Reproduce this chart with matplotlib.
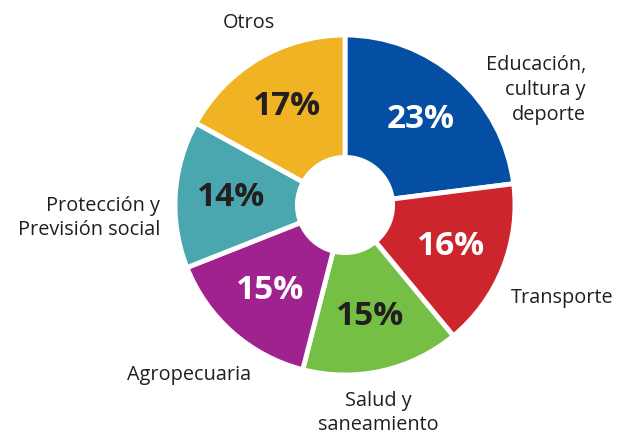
import matplotlib
matplotlib.use("Agg")
import matplotlib.pyplot as plt

categories = ["Educación,\ncultura y\ndeporte", "Transporte", "Salud y\nsaneamiento",
              "Agropecuaria", "Protección y\nPrevisión social", "Otros"]
values = [23, 16, 15, 15, 14, 17]
colors = ["#044EA3", "#CC252D", "#75BF44", "#A0228E", "#4BA7AF", "#EFB323"]
pct_colors = ["white", "white", "#231F20", "white", "#231F20", "#231F20"]

plt.rcParams['font.family'] = ['Open Sans', 'DejaVu Sans']

fig = plt.figure(figsize=(6.17, 4.34), dpi=100)
ax = fig.add_axes([0, 0, 1, 1])

cx, cy, R = 345, 229, 170
wedges, texts, autotexts = ax.pie(
    values, colors=colors, startangle=90, counterclock=False,
    center=(cx, cy), radius=R, autopct=lambda p: f"{p:.0f}%",
    pctdistance=0.67, wedgeprops=dict(width=R * 0.72, edgecolor='white', linewidth=3.5),
    textprops=dict(fontsize=24, fontweight='bold'), frame=True)
for t, c in zip(autotexts, pct_colors):
    t.set_color(c)
ax.set_xlim(0, 617)
ax.set_ylim(0, 434)
ax.set_aspect('equal')
ax.axis('off')

label_pos = [(586, 344, 'right'), (511, 136, 'left'), (378, 21, 'center'),
             (127, 59, 'left'), (160, 216, 'right'), (249, 411, 'center')]
for lab, (x, y, ha) in zip(categories, label_pos):
    ax.text(x, y, lab, ha=ha, va='center',
            fontsize=14.3, color='#231F20', linespacing=1.32)

fig.savefig("out.png", dpi=100)
